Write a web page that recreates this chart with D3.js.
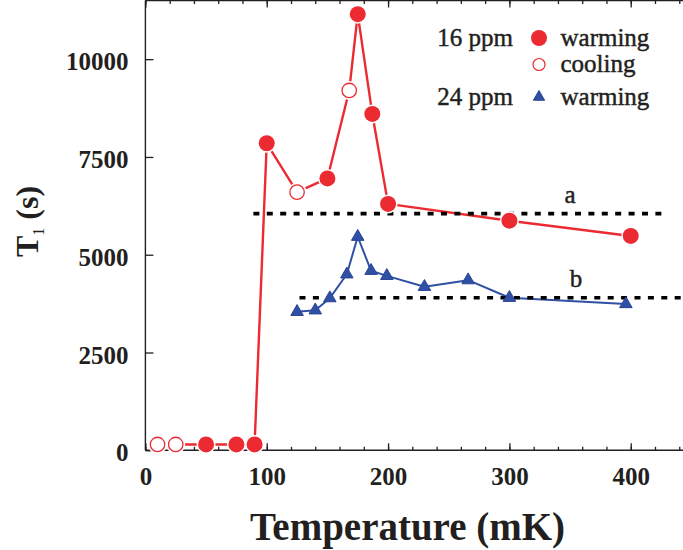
<!DOCTYPE html>
<html><head><meta charset="utf-8">
<script src="https://cdn.jsdelivr.net/npm/d3@7"></script>
<style>body{margin:0;background:#fff}svg{display:block}text{font-family:"Liberation Serif","Times New Roman",serif}</style>
</head><body>
<svg id="c" width="683" height="550"></svg>
<script>
// ---- data ----
const xMajorTicks = [0, 100, 200, 300, 400];
const xMinorTicks = d3.range(0, 460, 20);
const yTicks = [0, 2500, 5000, 7500, 10000];
const ppm16Temp = [10, 25, 50, 75, 90, 100, 125, 150, 168, 175, 187, 200, 300, 400];
const ppm16T1   = [150, 150, 150, 150, 150, 7850, 6600, 6950, 9200, 11150, 8600, 6300, 5870, 5480];
const ppm16Mode = ["cooling","cooling","warming","warming","warming","warming","cooling","warming","cooling","warming","warming","warming","warming","warming"];
const ppm24Temp = [125, 140, 152, 166, 175, 186, 199, 230, 266, 300, 396];
const ppm24T1   = [3540, 3580, 3890, 4500, 5460, 4590, 4460, 4180, 4350, 3900, 3740];
const refLabels = ["a", "b"];
const refLevels = [6050, 3900];
const refStart  = [89, 127];
const refEnd    = [430, 450];
const refLabelX = [570, 576];
const legendGroups = ["16 ppm", "", "24 ppm"];
const legendModes  = ["warming", "cooling", "warming"];

// ---- layout ----
const RED = "#ec2a32", BLUE = "#3050a6", INK = "#231f20";
const svg = d3.select("#c");
const x = d3.scaleLinear().domain([0, 450]).range([145.4, 691.4]);
const y = d3.scaleLinear().domain([0, 11500]).range([450.3, 0.5]);
const serif = "Liberation Serif";

// frame
const fr = svg.append("g").attr("stroke", INK).attr("stroke-width", 1.4).attr("fill", "none");
fr.append("line").attr("x1", x(0)).attr("x2", x(0)).attr("y1", y(11500)).attr("y2", y(0));
fr.append("line").attr("x1", x(0)).attr("x2", 683).attr("y1", y(11500)).attr("y2", y(11500));
fr.append("line").attr("x1", x(0)).attr("x2", 683).attr("y1", y(0)).attr("y2", y(0));

function styleAxis(g) {
  g.select(".domain").remove();
  g.attr("font-family", null);
  g.selectAll(".tick line").attr("stroke", INK).attr("stroke-width", 1.3);
  g.selectAll("text").attr("fill", INK).style("font-family", serif)
    .attr("font-weight", "bold").attr("font-size", 25);
}
// bottom
svg.append("g").attr("transform", `translate(0,${y(0)})`)
  .call(d3.axisBottom(x).tickValues(xMinorTicks).tickSize(-3.5).tickFormat(""))
  .call(styleAxis);
svg.append("g").attr("transform", `translate(0,${y(0)})`)
  .call(d3.axisBottom(x).tickValues(xMajorTicks).tickSize(-7).tickPadding(17).tickFormat(d3.format("d")))
  .call(styleAxis);
// top
svg.append("g").attr("transform", `translate(0,${y(11500)})`)
  .call(d3.axisTop(x).tickValues(xMinorTicks).tickSize(-3.5).tickFormat(""))
  .call(styleAxis);
svg.append("g").attr("transform", `translate(0,${y(11500)})`)
  .call(d3.axisTop(x).tickValues(xMajorTicks).tickSize(-7).tickFormat(""))
  .call(styleAxis);
// left
const ya = svg.append("g").attr("transform", `translate(${x(0)},0)`)
  .call(d3.axisLeft(y).tickValues(yTicks).tickSize(-8).tickPadding(17).tickFormat(d3.format("d")))
  .call(styleAxis);
ya.selectAll("text").attr("dy", "0.42em");

// axis titles
svg.append("text").attr("x", 407.5).attr("y", 540).attr("text-anchor", "middle")
  .style("font-family", serif).attr("font-weight", "bold").attr("font-size", 39).attr("fill", INK)
  .text("Temperature (mK)");
const yt = svg.append("text").attr("transform", "translate(38.3,257) rotate(-90)")
  .style("font-family", serif).attr("font-weight", "bold").attr("font-size", 32).attr("fill", INK);
yt.append("tspan").text("T");
yt.append("tspan").attr("font-size", 16).attr("font-weight", "normal").attr("dy", 6).attr("dx", 0).text("1");
yt.append("tspan").attr("dy", -6).text(" (s)");

// series
const d16 = ppm16Temp.map((t, i) => ({t, v: ppm16T1[i], m: ppm16Mode[i]}));
const d24 = ppm24Temp.map((t, i) => ({t, v: ppm24T1[i]}));
const line = d3.line().x(d => x(d.t)).y(d => y(d.v));

svg.append("path").datum(d16).attr("d", line).attr("fill", "none")
  .attr("stroke", RED).attr("stroke-width", 2.4).attr("stroke-linejoin", "round");
svg.append("path").datum(d24).attr("d", line).attr("fill", "none")
  .attr("stroke", BLUE).attr("stroke-width", 2).attr("stroke-linejoin", "round");

// reference dotted lines
refLevels.forEach((lv, i) => {
  svg.append("line").attr("x1", x(refStart[i])).attr("x2", x(refEnd[i]))
    .attr("y1", y(lv)).attr("y2", y(lv))
    .attr("stroke", "#000").attr("stroke-width", 3.6).attr("stroke-dasharray", "6,7.4");
  svg.append("text").attr("x", refLabelX[i]).attr("y", y(lv) - 11).attr("text-anchor", "middle")
    .style("font-family", serif).attr("font-size", 25).attr("fill", INK)
    .attr("stroke", INK).attr("stroke-width", 0.45).text(refLabels[i]);
});

// markers
const tri = d3.symbol().type(d3.symbolTriangle).size(68);
svg.append("g").selectAll("circle").data(d16).join("circle")
  .attr("cx", d => x(d.t)).attr("cy", d => y(d.v)).attr("r", 9.5).attr("fill", "#fff");
svg.append("g").selectAll("circle").data(d16).join("circle")
  .attr("cx", d => x(d.t)).attr("cy", d => y(d.v))
  .attr("r", d => d.m === "warming" ? 8 : 7.2)
  .attr("fill", d => d.m === "warming" ? RED : "#fff")
  .attr("stroke", RED).attr("stroke-width", d => d.m === "warming" ? 0 : 1.3);
svg.append("g").selectAll("path").data(d24).join("path")
  .attr("transform", d => `translate(${x(d.t)},${y(d.v)})`).attr("d", tri)
  .attr("fill", BLUE).attr("stroke", "#2a4494").attr("stroke-width", 1);

// legend
const lg = svg.append("g").attr("fill", INK);
const legY = [38, 64.5, 97];
legendModes.forEach((m, i) => {
  if (legendGroups[i]) lg.append("text").attr("x", 513).attr("y", legY[i] + 7.5)
    .style("font-family", serif).attr("font-size", 25).attr("stroke", INK).attr("stroke-width", 0.45)
    .attr("text-anchor", "end").text(legendGroups[i]);
  lg.append("text").attr("x", 560.5).attr("y", legY[i] + 7.5)
    .style("font-family", serif).attr("font-size", 25).attr("stroke", INK).attr("stroke-width", 0.45).text(m);
});
lg.append("circle").attr("cx", 539).attr("cy", legY[0]).attr("r", 8).attr("fill", RED);
lg.append("circle").attr("cx", 539).attr("cy", legY[1]).attr("r", 6).attr("fill", "#fff")
  .attr("stroke", RED).attr("stroke-width", 1.2);
lg.append("path").attr("transform", `translate(539,${legY[2]})`).attr("d", d3.symbol().type(d3.symbolTriangle).size(55))
  .attr("fill", BLUE).attr("stroke", "#2a4494").attr("stroke-width", 1);
</script>
</body></html>
